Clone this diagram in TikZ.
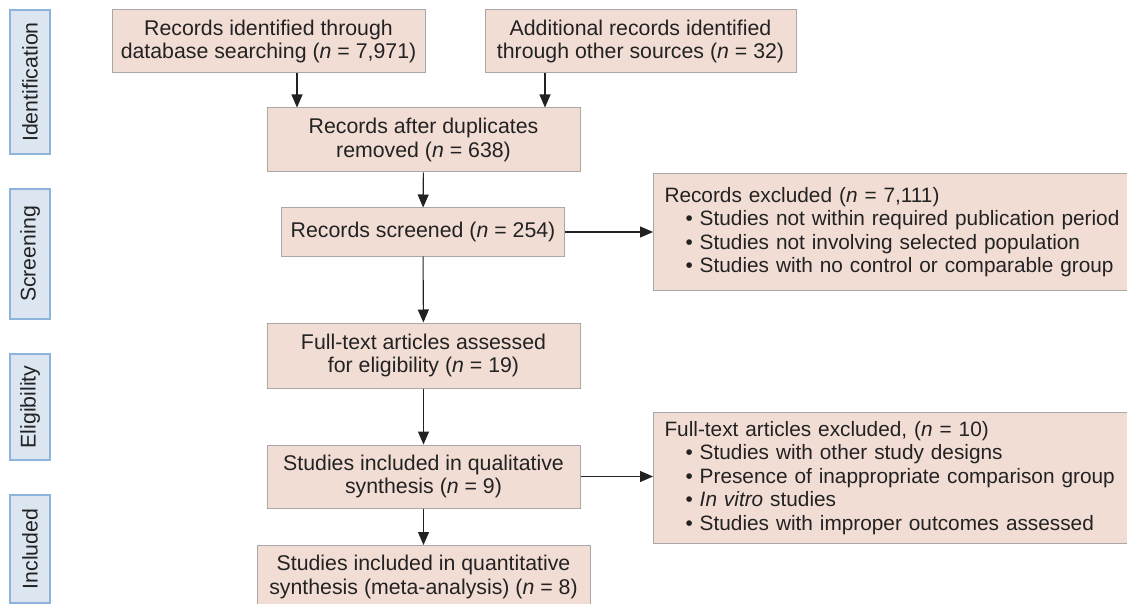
\documentclass[tikz,border=0pt]{standalone}
\usepackage{fontspec}
\setmainfont{Liberation Sans}
\usetikzlibrary{arrows.meta}
\definecolor{boxfill}{HTML}{F2DDD5}
\definecolor{boxline}{HTML}{A8A8A8}
\definecolor{sidefill}{HTML}{DCE6F1}
\definecolor{sideline}{HTML}{8DB4DB}
\definecolor{txt}{HTML}{222222}
\begin{document}
\begin{tikzpicture}[x=1pt,y=-1pt,
  every node/.style={font=\fontsize{21.3}{23.5}\selectfont, text=txt},
  flowbox/.style={draw=boxline, line width=1pt, fill=boxfill, align=center, inner sep=0pt},
  sidebox/.style={draw=sideline, line width=1.2pt, fill=sidefill, rotate=90, inner sep=0pt, minimum height=40pt},
  exclbox/.style={draw=boxline, line width=1pt, fill=boxfill, align=left, anchor=north west, inner xsep=11pt, inner ysep=0pt, text width=500pt, minimum width=522pt, font=\fontsize{20.8}{23.5}\selectfont},
  arr/.style={line width=1.1pt, draw=txt, -{Triangle[length=13pt,width=11pt]}}
]
\useasboundingbox (0,0) rectangle (1127,604);
\clip (0,0) rectangle (1127,604);
\fill[white] (0,0) rectangle (1127,604);

% side labels
\node[sidebox, minimum width=144pt] (ident) at (30,82) {Identification};
\node[sidebox, minimum width=130pt] (screen) at (30,254) {Screening};
\node[sidebox, minimum width=106pt] (elig) at (30,407) {Eligibility};
\node[sidebox, minimum width=108pt] (incl) at (30,549) {Included};

% main flow boxes
\node[flowbox, minimum width=313pt, minimum height=63pt] (db) at (268.5,41.5) {Records identified through\\database searching (\textit{n} = 7,971)};
\node[flowbox, minimum width=311pt, minimum height=63pt] (other) at (640.5,41.5) {Additional records identified\\through other sources (\textit{n} = 32)};
\node[flowbox, minimum width=313pt, minimum height=64pt] (dup) at (423.5,140) {Records after duplicates\\removed (\textit{n} = 638)};
\node[flowbox, minimum width=283pt, minimum height=48pt] (scr) at (423,232) {Records screened (\textit{n} = 254)};
\node[flowbox, minimum width=313pt, minimum height=65pt] (full) at (423.5,355.5) {Full-text articles assessed\\for eligibility (\textit{n} = 19)};
\node[flowbox, minimum width=313pt, minimum height=63pt] (qual) at (423.5,476.5) {Studies included in qualitative\\synthesis (\textit{n} = 9)};
\node[flowbox, minimum width=333pt, minimum height=63pt, anchor=north] (quant) at (423.5,545) {Studies included in quantitative\\synthesis (meta-analysis) (\textit{n} = 8)};

% exclusion boxes
\node[exclbox, minimum height=117pt] (excl1) at (653,173) {Records excluded (\textit{n} = 7,111)\\
\hspace*{21pt}\textbullet\ Studies not within required publication period\\
\hspace*{21pt}\textbullet\ Studies not involving selected population\\
\hspace*{21pt}\textbullet\ Studies with no control or comparable group};
\node[exclbox, minimum height=131pt] (excl2) at (653,412) {Full-text articles excluded, (\textit{n} = 10)\\
\hspace*{21pt}\textbullet\ Studies with other study designs\\
\hspace*{21pt}\textbullet\ Presence of inappropriate comparison group\\
\hspace*{21pt}\textbullet\ \textit{In vitro} studies\\
\hspace*{21pt}\textbullet\ Studies with improper outcomes assessed};

% connectors
\draw[arr] (db.south -| 297,0) -- (dup.north -| 297,0);
\draw[arr] (other.south -| 545,0) -- (dup.north -| 545,0);
\draw[arr] (dup) -- (scr);
\draw[arr] (scr) -- (full);
\draw[arr] (full) -- (qual);
\draw[arr] (qual) -- (quant);
\draw[arr] (scr.east) -- (scr.east -| excl1.west);
\draw[arr] (qual.east) -- (qual.east -| excl2.west);
\end{tikzpicture}
\end{document}
